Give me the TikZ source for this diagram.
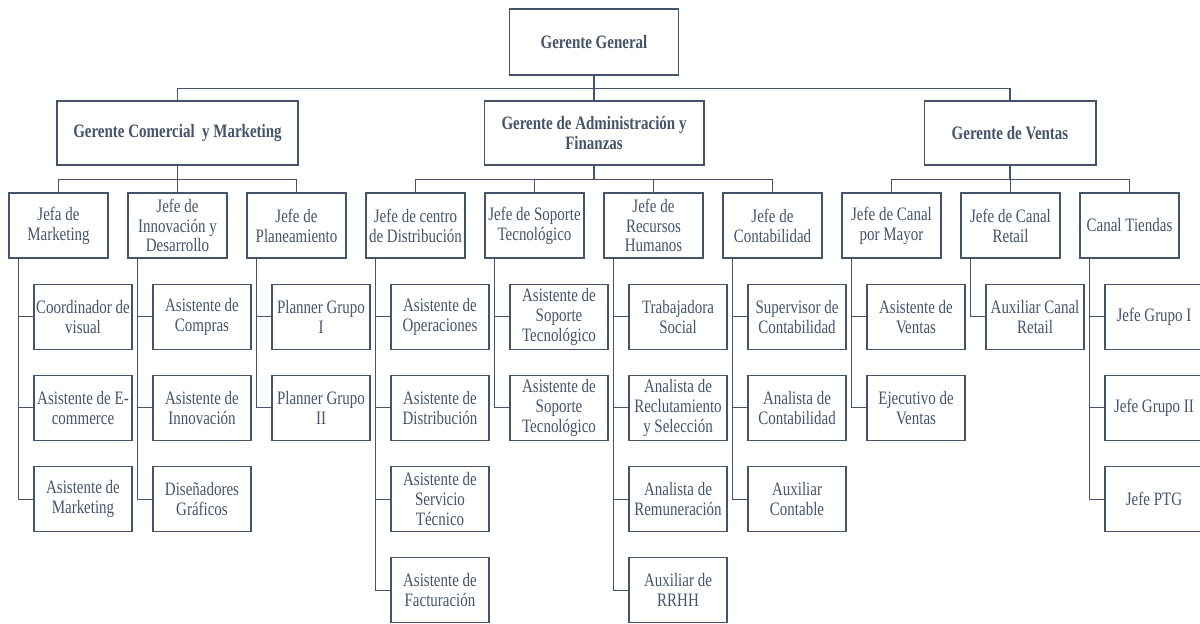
\documentclass[tikz,border=0pt]{standalone}
\usepackage{fontspec}
\setmainfont{Liberation Serif}[FakeStretch=0.79]
\usepackage{xcolor}
\definecolor{azulgris}{RGB}{68, 84, 106}
\usepackage{tikz}
\usetikzlibrary{positioning}

\tikzset{
    caja/.style={draw=azulgris, line width=0.6pt, text=azulgris, align=center, inner sep=0pt, font=\fontsize{10.8}{11.3}\selectfont},
    gerente/.style={caja, font=\fontsize{10.8}{11.3}\selectfont\bfseries, minimum height=1.28cm},
    jefe/.style={caja, minimum width=1.98cm, minimum height=1.30cm},
    asis/.style={caja, minimum width=1.96cm, minimum height=1.30cm},
    linea/.style={draw=azulgris, line width=0.6pt}
}

\begin{document}
\begin{tikzpicture}[x=0.02cm, y=-0.02cm]
    \useasboundingbox (0,0) rectangle (1200,623);

        % Top
        \node[gerente, minimum width=3.38cm, minimum height=1.32cm] (gg) at (594,42) {Gerente General};

        % Managers
        \node[gerente, minimum width=4.82cm] (gcm) at (177.5,133) {Gerente Comercial\ \ y Marketing};
        \node[gerente, minimum width=4.40cm] (gaf) at (594,133) {Gerente de Administración y\\Finanzas};
        \node[gerente, minimum width=3.44cm] (gv) at (1010,133) {Gerente de Ventas};

        \foreach \g in {gcm, gaf, gv} {
            \draw[linea] (gg.south) -- ++(0,13) -| (\g.north);
        }

        % Jefes
        \foreach \n/\txt [count=\i from 0] in {
            jm/{Jefa de\\Marketing},
            jid/{Jefe de\\Innovación y\\Desarrollo},
            jp/{Jefe de\\Planeamiento},
            jcd/{Jefe de centro\\de Distribución},
            jst/{Jefe de Soporte\\Tecnológico},
            jrh/{Jefe de\\Recursos\\Humanos},
            jc/{Jefe de\\Contabilidad},
            jcm/{Jefe de Canal\\por Mayor},
            jcr/{Jefe de Canal\\Retail},
            ct/{Canal Tiendas}} {
            \node[jefe] (\n) at (58.5+119*\i,225.5) {\txt};
        }

        \foreach \g/\j in {gcm/jm, gcm/jid, gcm/jp, gaf/jcd, gaf/jst, gaf/jrh, gaf/jc, gv/jcm, gv/jcr, gv/ct} {
            \draw[linea] (\g.south) -- ++(0,14) -| (\j.north);
        }

        % Staff under each jefe
        \foreach \txt [count=\i] in {{Coordinador de\\visual}, {Asistente de E-\\commerce}, {Asistente de\\Marketing}} {
            \node[asis] (jm-\i) at (83,225.5+91.2*\i) {\txt};
            \draw[linea] ([xshift=0.2cm]jm.south west) |- (jm-\i.west);
        }
        \foreach \txt [count=\i] in {{Asistente de\\Compras}, {Asistente de\\Innovación}, {Diseñadores\\Gráficos}} {
            \node[asis] (jid-\i) at (202,225.5+91.2*\i) {\txt};
            \draw[linea] ([xshift=0.2cm]jid.south west) |- (jid-\i.west);
        }
        \foreach \txt [count=\i] in {{Planner Grupo\\I}, {Planner Grupo\\II}} {
            \node[asis] (jp-\i) at (321,225.5+91.2*\i) {\txt};
            \draw[linea] ([xshift=0.2cm]jp.south west) |- (jp-\i.west);
        }
        \foreach \txt [count=\i] in {{Asistente de\\Operaciones}, {Asistente de\\Distribución}, {Asistente de\\Servicio\\Técnico}, {Asistente de\\Facturación}} {
            \node[asis] (jcd-\i) at (440,225.5+91.2*\i) {\txt};
            \draw[linea] ([xshift=0.2cm]jcd.south west) |- (jcd-\i.west);
        }
        \foreach \txt [count=\i] in {{Asistente de\\Soporte\\Tecnológico}, {Asistente de\\Soporte\\Tecnológico}} {
            \node[asis] (jst-\i) at (559,225.5+91.2*\i) {\txt};
            \draw[linea] ([xshift=0.2cm]jst.south west) |- (jst-\i.west);
        }
        \foreach \txt [count=\i] in {{Trabajadora\\Social}, {Analista de\\Reclutamiento\\y Selección}, {Analista de\\Remuneración}, {Auxiliar de\\RRHH}} {
            \node[asis] (jrh-\i) at (678,225.5+91.2*\i) {\txt};
            \draw[linea] ([xshift=0.2cm]jrh.south west) |- (jrh-\i.west);
        }
        \foreach \txt [count=\i] in {{Supervisor de\\Contabilidad}, {Analista de\\Contabilidad}, {Auxiliar\\Contable}} {
            \node[asis] (jc-\i) at (797,225.5+91.2*\i) {\txt};
            \draw[linea] ([xshift=0.2cm]jc.south west) |- (jc-\i.west);
        }
        \foreach \txt [count=\i] in {{Asistente de\\Ventas}, {Ejecutivo de\\Ventas}} {
            \node[asis] (jcm-\i) at (916,225.5+91.2*\i) {\txt};
            \draw[linea] ([xshift=0.2cm]jcm.south west) |- (jcm-\i.west);
        }
        \foreach \txt [count=\i] in {{Auxiliar Canal\\Retail}} {
            \node[asis] (jcr-\i) at (1035,225.5+91.2*\i) {\txt};
            \draw[linea] ([xshift=0.2cm]jcr.south west) |- (jcr-\i.west);
        }
        \foreach \txt [count=\i] in {{Jefe Grupo I}, {Jefe Grupo II}, {Jefe PTG}} {
            \node[asis] (ct-\i) at (1154,225.5+91.2*\i) {\txt};
            \draw[linea] ([xshift=0.2cm]ct.south west) |- (ct-\i.west);
        }
    \end{tikzpicture}
\end{document}
